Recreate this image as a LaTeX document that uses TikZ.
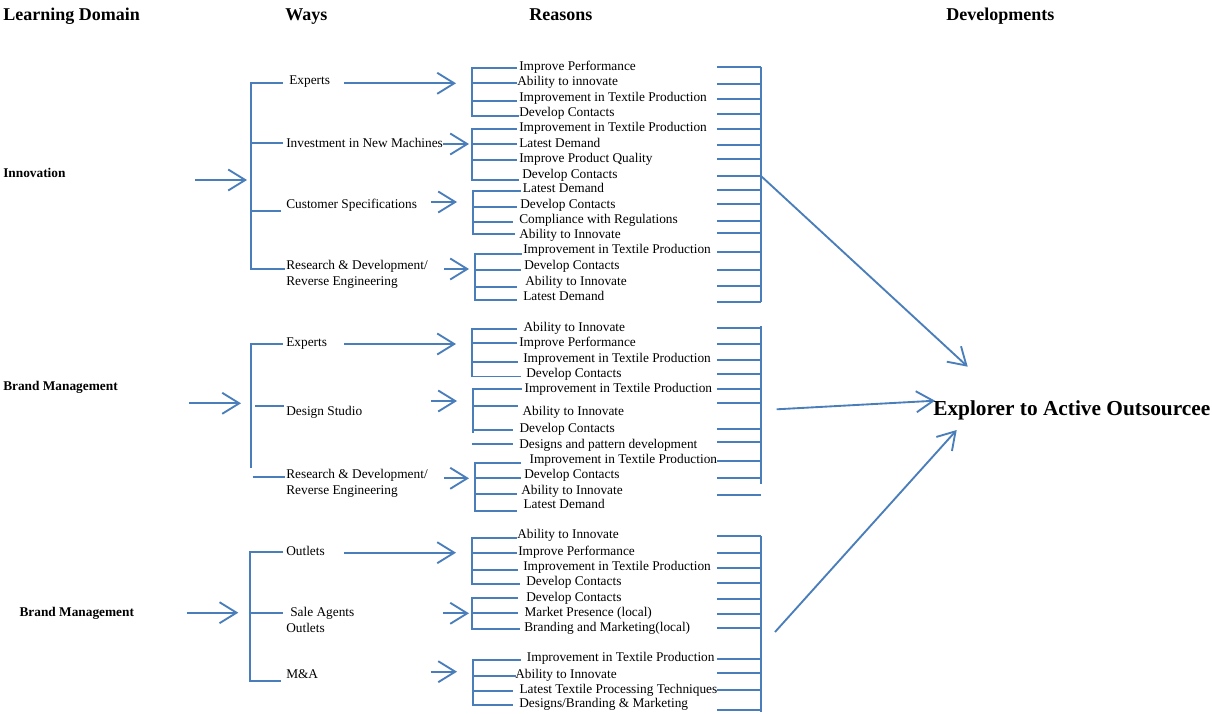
\documentclass[tikz,border=0pt]{standalone}
\usepackage{fontspec}
\setmainfont{Liberation Serif}
\usetikzlibrary{arrows.meta}
\definecolor{lineblue}{HTML}{4A7EBB}
\begin{document}
\begin{tikzpicture}[x=0.75pt,y=-0.75pt,
  ln/.style={draw=lineblue,line width=1.4pt},
  arr/.style={ln,-{Straight Barb[length=12.75pt,width=15.75pt]}},
  txt/.style={font=\fontsize{10}{12}\selectfont,inner sep=0pt,anchor=base west},
  dom/.style={font=\fontsize{10}{12}\selectfont\bfseries,inner sep=0pt,anchor=base west},
  hdr/.style={font=\fontsize{13.5}{16}\selectfont\bfseries,inner sep=0pt,anchor=base west},
  goal/.style={font=\fontsize{16}{19}\selectfont\bfseries,inner sep=0pt,anchor=base west}]
\useasboundingbox (0,0) rectangle (1212,713);

% column headings
\node[hdr] (hLD) at (3,20.7) {Learning Domain};
\node[hdr] (hW) at (285,20.7) {Ways};
\node[hdr] (hR) at (529,20.7) {Reasons};
\node[hdr] (hD) at (946,20.7) {Developments};

% outcome
\node[goal] (goal) at (933,415) {Explorer to Active Outsourcee};

% ================= Innovation =================
\node[dom] (d1) at (3,177.5) {Innovation};
\coordinate (d1s) at (195,180);
\coordinate (d1e) at (247,180);
\draw[arr] (d1s) -- (d1e);
\draw[ln] (283,83) -| (250.7,269) -- (285,269);
\draw[ln] (250.7,143) -- (283,143);
\draw[ln] (250.7,211) -- (281,211);

\node[txt] (w11) at (289,85) {Experts};
\node[txt] (w12) at (286,147) {Investment in New Machines};
\node[txt] (w13) at (286,208.5) {Customer Specifications};
\node[txt] (w14) at (286,269.5) {Research \& Development/};
\node[txt] (w14b) at (286,285) {Reverse Engineering};

\coordinate (a11s) at (344,83.3);  \coordinate (a11e) at (456,83.3);
\coordinate (a12s) at (443,144);   \coordinate (a12e) at (469,144);
\coordinate (a13s) at (431,202);   \coordinate (a13e) at (457,202);
\coordinate (a14s) at (444,269);   \coordinate (a14e) at (469,269);
\draw[arr] (a11s) -- (a11e);
\draw[arr] (a12s) -- (a12e);
\draw[arr] (a13s) -- (a13e);
\draw[arr] (a14s) -- (a14e);

\node[txt] (r11) at (519,70.2) {Improve Performance};
\node[txt] (r12) at (517,85.2) {Ability to innovate};
\node[txt] (r13) at (519,101.2) {Improvement in Textile Production};
\node[txt] (r14) at (519,116.5) {Develop Contacts};
\node[txt] (r15) at (519,131.2) {Improvement in Textile Production};
\node[txt] (r16) at (519,147.2) {Latest Demand};
\node[txt] (r17) at (519,162.8) {Improve Product Quality};
\node[txt] (r18) at (522,178.5) {Develop Contacts};
\node[txt] (r19) at (522.7,192.8) {Latest Demand};
\node[txt] (r1a) at (520,208.5) {Develop Contacts};
\node[txt] (r1b) at (519,223.5) {Compliance with Regulations};
\node[txt] (r1c) at (519,238.8) {Ability to Innovate};
\node[txt] (r1d) at (523,253.8) {Improvement in Textile Production};
\node[txt] (r1e) at (524,269.5) {Develop Contacts};
\node[txt] (r1f) at (525,285.2) {Ability to Innovate};
\node[txt] (r1g) at (523,300.2) {Latest Demand};

\draw[ln] (517,68) -| (471.7,116) -- (519,116);
\draw[ln] (471.7,83) -- (517,83);
\draw[ln] (471.7,101) -- (517,101);
\draw[ln] (517,129) -| (471.7,180) -- (519,180);
\draw[ln] (471.7,144.3) -- (517,144.3);
\draw[ln] (471.7,160) -- (517,160);
\draw[ln] (520.7,190.7) -| (472.7,234) -- (515,234);
\draw[ln] (472.7,206.7) -- (517,206.7);
\draw[ln] (472.7,221.7) -- (513,221.7);
\draw[ln] (521.7,254) -| (475,300) -- (517,300);
\draw[ln] (475,270) -- (521,270);
\draw[ln] (475,286.7) -- (517,286.7);

\draw[ln] (761,67) -- (761,302);
\foreach \y in {67,84,99,114,129,145,159,176,190,204,221,233,252,270,286,302}
  \draw[ln] (717,\y) -- (761,\y);
\coordinate (o1) at (761,176);
\coordinate (g1) at (967.7,366.7);
\draw[arr] (o1) -- (g1);

% ================= Brand Management (design) =================
\node[dom] (d2) at (3,390.7) {Brand Management};
\coordinate (d2s) at (189,403.3);
\coordinate (d2e) at (241,403.3);
\draw[arr] (d2s) -- (d2e);
\draw[ln] (283,344) -| (251,468);
\draw[ln] (255,406) -- (284,406);
\draw[ln] (252.7,477.3) -- (285,477.3);

\node[txt] (w21) at (286,346) {Experts};
\node[txt] (w22) at (286,415) {Design Studio};
\node[txt] (w23) at (286,478.5) {Research \& Development/};
\node[txt] (w23b) at (286,494.5) {Reverse Engineering};

\coordinate (a21s) at (344,344);   \coordinate (a21e) at (456,344);
\coordinate (a22s) at (431,401);   \coordinate (a22e) at (457,401);
\coordinate (a23s) at (444,478.3); \coordinate (a23e) at (469,478.3);
\draw[arr] (a21s) -- (a21e);
\draw[arr] (a22s) -- (a22e);
\draw[arr] (a23s) -- (a23e);

\node[txt] (r21) at (523.3,331.2) {Ability to Innovate};
\node[txt] (r22) at (519,346.5) {Improve Performance};
\node[txt] (r23) at (523,362.2) {Improvement in Textile Production};
\node[txt] (r24) at (526,377.2) {Develop Contacts};
\node[txt] (r25) at (524.3,392.2) {Improvement in Textile Production};
\node[txt] (r26) at (522.3,415.2) {Ability to Innovate};
\node[txt] (r27) at (519.3,432.2) {Develop Contacts};
\node[txt] (r28) at (519,448.5) {Designs and pattern development};
\node[txt] (r29) at (529.3,463.5) {Improvement in Textile Production};
\node[txt] (r2a) at (524,478.5) {Develop Contacts};
\node[txt] (r2b) at (521,494.5) {Ability to Innovate};
\node[txt] (r2c) at (523.3,508.8) {Latest Demand};

\draw[ln] (517,329.3) -| (471.7,376.5) -- (520.7,376.5);
\draw[ln] (471.7,343.3) -- (517,343.3);
\draw[ln] (471.7,361.7) -- (518,361.7);
\draw[ln] (521.7,389.3) -| (472.7,432.7);
\draw[ln] (472.7,406) -- (518,406);
\draw[ln] (472.7,430) -- (513,430);
\draw[ln] (471.7,444.3) -- (512.7,444.3);
\draw[ln] (521,463.3) -| (475,510.7) -- (517,510.7);
\draw[ln] (475,478.3) -- (521,478.3);
\draw[ln] (475,494.3) -- (517,494.3);

\draw[ln] (761,326) -- (761,484.3);
\foreach \y in {328,344,360,374,389,403,429,442,461,478,495}
  \draw[ln] (717,\y) -- (761,\y);
\coordinate (o2) at (776.7,409.3);
\coordinate (g2) at (935,400.7);
\draw[arr] (o2) -- (g2);

% ================= Brand Management (market) =================
\node[dom] (d3) at (19.3,616) {Brand Management};
\coordinate (d3s) at (186.7,612.7);
\coordinate (d3e) at (238.3,612.7);
\draw[arr] (d3s) -- (d3e);
\draw[ln] (283.3,552.3) -| (250,681) -- (281,681);
\draw[ln] (250,612.7) -- (283,612.7);

\node[txt] (w31) at (286,555) {Outlets};
\node[txt] (w32) at (290,616) {Sale Agents};
\node[txt] (w32b) at (286,632) {Outlets};
\node[txt] (w33) at (286,678) {M\&A};

\coordinate (a31s) at (344,552.7);   \coordinate (a31e) at (456,552.7);
\coordinate (a32s) at (443.3,613.3); \coordinate (a32e) at (469,613.3);
\coordinate (a33s) at (430.7,671.7); \coordinate (a33e) at (457,671.7);
\draw[arr] (a31s) -- (a31e);
\draw[arr] (a32s) -- (a32e);
\draw[arr] (a33s) -- (a33e);

\node[txt] (r31) at (517,538.8) {Ability to Innovate};
\node[txt] (r32) at (518,555.5) {Improve Performance};
\node[txt] (r33) at (523,570.2) {Improvement in Textile Production};
\node[txt] (r34) at (526,585.2) {Develop Contacts};
\node[txt] (r35) at (526,601.2) {Develop Contacts};
\node[txt] (r36) at (524.3,616.2) {Market Presence (local)};
\node[txt] (r37) at (524,631.8) {Branding and Marketing(local)};
\node[txt] (r38) at (526.7,661.8) {Improvement in Textile Production};
\node[txt] (r39) at (515,678.5) {Ability to Innovate};
\node[txt] (r3a) at (519.3,693.5) {Latest Textile Processing Techniques};
\node[txt] (r3b) at (519,707.8) {Designs/Branding \& Marketing};

\draw[ln] (516.7,537.7) -| (471.7,584) -- (520,584);
\draw[ln] (471.7,552.7) -- (517,552.7);
\draw[ln] (471.7,570) -- (518,570);
\draw[ln] (518.3,597.7) -| (471.7,629.3) -- (520,629.3);
\draw[ln] (471.7,613.3) -- (518,613.3);
\draw[ln] (521,660) -| (472.7,705) -- (513,705);
\draw[ln] (472.7,675.7) -- (516,675.7);
\draw[ln] (472.7,690.7) -- (513,690.7);

\draw[ln] (761,536) -- (761,711.7);
\foreach \y in {536,553,568,583,599,614,628,659,673,690,710}
  \draw[ln] (717,\y) -- (761,\y);
\coordinate (o3) at (775,632);
\coordinate (g3) at (956.7,430);
\draw[arr] (o3) -- (g3);
\end{tikzpicture}
\end{document}
